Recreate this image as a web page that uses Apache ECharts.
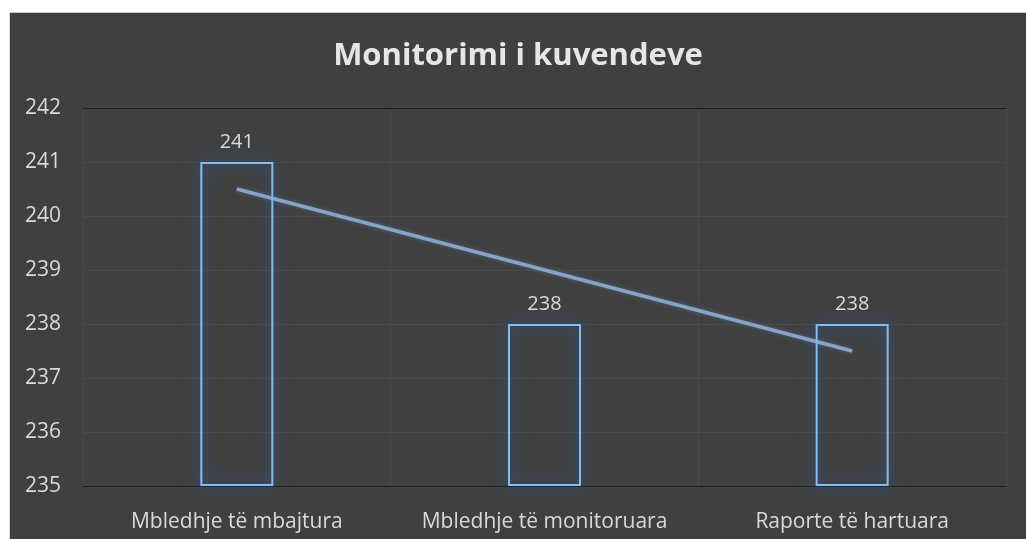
<!DOCTYPE html>
<html>
<head>
<meta charset="utf-8">
<script src="https://cdn.jsdelivr.net/npm/echarts@6/dist/echarts.min.js"></script>
<style>
html,body{margin:0;padding:0;background:#ffffff;width:1026px;height:539px;overflow:hidden;}
#chart{position:absolute;left:9px;top:12px;width:1017px;height:527px;border-top:1px solid #c8c8c8;border-left:1px solid #d8d8d8;box-sizing:border-box;}
</style>
</head>
<body>
<div id="chart"></div>
<script>
const title = "Monitorimi i kuvendeve";
const categories = ["Mbledhje të mbajtura", "Mbledhje të monitoruara", "Raporte të hartuara"];
const values = [241, 238, 238];
const trendValues = [240.5, 239, 237.5];
const axisMin = 235;
const axisMax = 242;

const labelColor = '#d9d9d9';
const font = 'Open Sans';

const chart = echarts.init(document.getElementById('chart'), null, {renderer: 'canvas'});
chart.setOption({
  backgroundColor: '#404040',
  animation: false,
  title: {
    text: title,
    left: 'center',
    top: 23,
    textStyle: {color: '#e6e6e6', fontSize: 31, fontWeight: 'bold', fontFamily: font}
  },
  grid: {left: 73, right: 20, top: 95, bottom: 53, containLabel: false},
  xAxis: [{
    type: 'category',
    data: categories,
    boundaryGap: true,
    axisLine: {show: true, lineStyle: {color: '#1e1e1e', width: 1}},
    axisTick: {show: false, interval: 0},
    splitLine: {show: true, interval: 0, lineStyle: {color: '#4a4a4a', width: 1}},
    axisLabel: {color: labelColor, fontSize: 21, fontFamily: font, margin: 26, interval: 0, hideOverlap: false}
  }, {
    type: 'category',
    data: categories,
    position: 'top',
    axisLine: {show: true, lineStyle: {color: '#1e1e1e', width: 1}},
    axisTick: {show: false},
    axisLabel: {show: false},
    splitLine: {show: false}
  }],
  yAxis: {
    type: 'value',
    min: axisMin,
    max: axisMax,
    interval: 1,
    axisLine: {show: false},
    axisTick: {show: false},
    splitLine: {show: true, lineStyle: {color: '#4a4a4a', width: 1}},
    axisLabel: {color: labelColor, fontSize: 21, fontFamily: font, margin: 22}
  },
  series: [{
    type: 'bar',
    stack: 'v',
    data: values.map(() => axisMin),
    itemStyle: {color: 'rgba(0,0,0,0)'},
    barWidth: 73,
    silent: true
  }, {
    type: 'bar',
    stack: 'v',
    data: values.map(v => v - axisMin),
    barWidth: 73,
    itemStyle: {
      color: 'rgba(0,0,0,0)',
      borderColor: '#86bcef',
      borderWidth: 2,
      shadowColor: 'rgba(35,110,210,1)',
      shadowBlur: 16
    },
    label: {
      show: true,
      position: 'top',
      distance: 10,
      color: labelColor,
      fontSize: 20,
      fontFamily: font,
      formatter: p => String(values[p.dataIndex])
    }
  }, {
    type: 'line',
    data: trendValues,
    symbol: 'none',
    lineStyle: {color: 'rgba(150,178,212,0.85)', width: 3.5, shadowColor: 'rgba(90,140,200,0.6)', shadowBlur: 4},
    z: 3
  }]
});
</script>
</body>
</html>
